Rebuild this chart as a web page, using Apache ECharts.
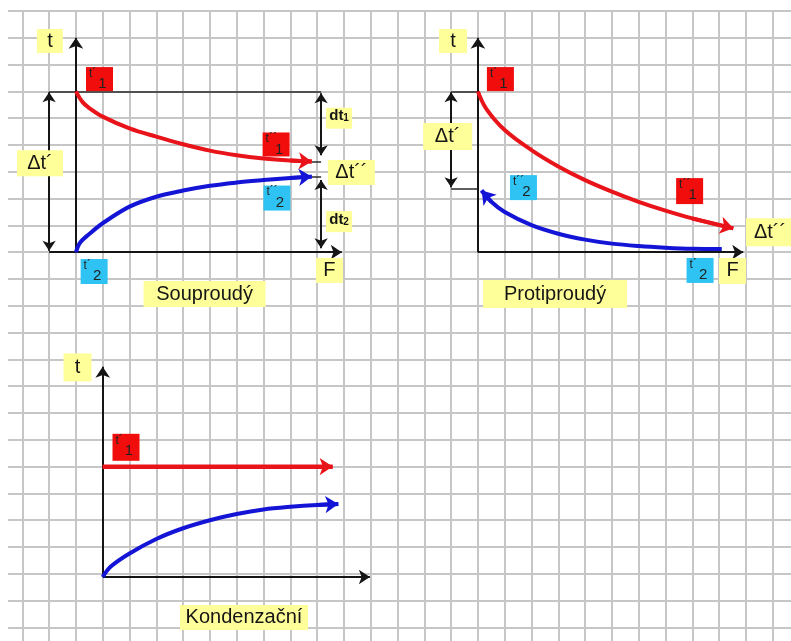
<!DOCTYPE html>
<html>
<head>
<meta charset="utf-8">
<title>Souproudý, protiproudý, kondenzační</title>
<script src="https://cdn.jsdelivr.net/npm/echarts@6/dist/echarts.min.js"></script>
<style>
  html, body { margin: 0; padding: 0; background: #fff; }
  #chart { width: 791px; height: 641px; }
</style>
</head>
<body>
<div id="chart"></div>
<script>
// vse v jednotkach ctverecku site (x = plocha F, y = teplota t)

// teplé médium (t1) a studené médium (t2)
const souRed = [[2, 21], [2.25, 20.6], [2.5, 20.38], [3, 20.06], [4, 19.62], [5, 19.31], [6, 19.03], [7, 18.79], [8, 18.62], [9, 18.5], [10, 18.42], [10.8, 18.38]]
const souBlue = [[2, 15], [2.15, 15.35], [2.5, 15.68], [3, 16.08], [4, 16.7], [5, 17.07], [6, 17.3], [7, 17.48], [8, 17.6], [9, 17.69], [10, 17.77], [10.8, 17.82]]
const protiRed = [[17, 21], [17.3, 20.37], [18, 19.56], [19, 18.81], [20, 18.2], [21, 17.69], [22, 17.26], [23, 16.88], [24, 16.55], [25, 16.26], [26.53, 15.89]]
const protiBlue = [[26.1, 15.12], [25, 15.13], [24, 15.17], [23, 15.23], [22, 15.32], [21, 15.47], [20, 15.69], [19, 16.01], [18, 16.5], [17.5, 16.88], [17.14, 17.3]]
const konRed = [[3, 7], [11.58, 7]]
const konBlue = [[3, 2.88], [3.3, 3.27], [4, 3.76], [5, 4.3], [6, 4.7], [7, 5.0], [8, 5.23], [9, 5.4], [10, 5.5], [11, 5.57], [11.79, 5.6]]

// osy (se sipkou na konci)
const axisSegs = [
  [[1, 15], [11.92, 15]],
  [[2, 15], [2, 23]],
  [[17, 15], [26.9, 15]],
  [[17, 15], [17, 23]],
  [[3, 2.88], [12.97, 2.88]],
  [[3, 2.88], [3, 10.73]]
]
// pomocne cary
const helpSegs = [
  [[1, 21], [11.15, 21]],
  [[10.8, 18.38], [11.15, 18.38]],
  [[10.8, 17.82], [11.15, 17.82]],
  [[16, 21], [17, 21]],
  [[16, 17.38], [17, 17.38]]
]
// kotovaci sipky (oboustranne)
const dimSegs = [
  [[1, 15.05], [1, 20.97]],
  [[11.15, 20.93], [11.15, 18.62]],
  [[11.15, 17.69], [11.15, 15.15]],
  [[16, 20.97], [16, 17.42]]
]

// popisky: [x, y, text, index, druh, sirka, vyska]
const notes = [
  [1.03, 22.88, 't', '', 'y', 26, 24],
  [2.88, 21.46, 't´', '1', 'r', 27, 24],
  [9.47, 19.02, 't´´', '1', 'r', 27, 24],
  [2.68, 14.28, 't´', '2', 'c', 27, 25],
  [9.5, 17.02, 't´´', '2', 'c', 27, 25],
  [0.66, 18.32, 'Δt´', '', 'y', 46, 26],
  [11.82, 20.0, 'dt', '1', 'd', 26, 21],
  [12.28, 17.97, 'Δt´´', '', 'y', 47, 25],
  [11.82, 16.14, 'dt', '2', 'd', 26, 21],
  [11.46, 14.32, 'F', '', 'y', 27, 25],
  [6.8, 13.44, 'Souproudý', '', 'y', 122, 26],

  [16.07, 22.88, 't', '', 'y', 28, 24],
  [17.84, 21.46, 't´', '1', 'r', 27, 24],
  [15.87, 19.32, 'Δt´', '', 'y', 49, 27],
  [18.7, 17.41, 't´´', '2', 'c', 27, 25],
  [24.9, 17.28, 't´´', '1', 'r', 27, 26],
  [27.9, 15.74, 'Δt´´', '', 'y', 48, 28],
  [25.29, 14.32, 't´', '2', 'c', 27, 25],
  [26.5, 14.3, 'F', '', 'y', 27, 26],
  [19.88, 13.44, 'Protiproudý', '', 'y', 144, 28],

  [2.06, 10.7, 't', '', 'y', 28, 28],
  [3.87, 7.72, 't´', '1', 'r', 27, 27],
  [8.27, 1.37, 'Kondenzační', '', 'y', 128, 25]
]

const FONT = 'Liberation Sans'
const RED = '#e8141a'
const BLUE = '#1414d6'
const INK = '#151515'
const boxColor = { y: '#ffff99', d: '#ffff99', r: '#f20d0d', c: '#2ec3f2' }

// sit: ctverecek 26.8 px, cara x = 0 lezi na 22.3 px, cara y = 24 na 11 px
const CELL = 26.8
const X_MIN = (8 - 22.3) / CELL
const X_MAX = (791 - 22.3) / CELL
const Y_MIN = 24 - (641 - 11) / CELL
const Y_MAX = 24

const chart = echarts.init(document.getElementById('chart'))

function segs(segList, color, width, symbol, size, z) {
  return {
    type: 'lines',
    coordinateSystem: 'cartesian2d',
    silent: true,
    symbol: symbol,
    symbolSize: size,
    lineStyle: { color: color, width: width, opacity: 1, curveness: 0 },
    data: segList.map((s) => ({ coords: s })),
    z: z
  }
}

function curve(data, color) {
  return {
    type: 'line',
    data: data,
    smooth: 0.35,
    symbol: 'none',
    silent: true,
    lineStyle: { color: color, width: 4 },
    z: 4
  }
}

// sipka na konci krivky: posledni usek krivky
function tip(data) {
  return [data[data.length - 2], data[data.length - 1]]
}

function noteLabel(n) {
  const [x, y, text, sub, kind, w, h] = n
  const twoLine = kind === 'r' || kind === 'c'
  let formatter
  if (twoLine) {
    // carka nahore vlevo, index pod ni vpravo
    formatter = `{p|${text}}\n{s|${sub}}`
  } else if (kind === 'd') {
    formatter = `{b|${text}}{bs|${sub}}`
  } else {
    formatter = `{m|${text}}`
  }
  const label = {
    show: true,
    position: 'inside',
    formatter: formatter,
    width: w,
    height: h,
    align: 'center',
    verticalAlign: 'middle',
    opacity: 1,
    backgroundColor: boxColor[kind]
  }
  if (!twoLine) label.lineHeight = h
  return { value: [x, y], label: label }
}

const gridAxis = {
  type: 'value',
  splitNumber: 30,
  minInterval: 1,
  maxInterval: 1,
  axisLine: { show: false },
  axisTick: { show: false },
  axisLabel: { show: false },
  splitLine: { show: true, showMinLine: false, showMaxLine: false, lineStyle: { color: '#c6c6c6', width: 2 } }
}

const option = {
  animation: false,
  backgroundColor: '#fff',
  grid: { left: 8, right: 0, top: 11, bottom: 0 },
  xAxis: Object.assign({}, gridAxis, { min: X_MIN, max: X_MAX }),
  yAxis: Object.assign({}, gridAxis, {
    min: Y_MIN, max: Y_MAX,
    splitLine: { show: true, showMinLine: false, showMaxLine: true, lineStyle: { color: '#c6c6c6', width: 2 } }
  }),
  series: [
    segs(helpSegs, '#2a2a2a', 1.5, ['none', 'none'], 0, 2),
    segs(axisSegs, INK, 2, ['none', 'arrow'], 11, 3),
    segs(dimSegs, INK, 2, ['arrow', 'arrow'], 10, 3),
    curve(souRed, RED),
    curve(souBlue, BLUE),
    curve(protiRed, RED),
    curve(protiBlue, BLUE),
    curve(konRed, RED),
    curve(konBlue, BLUE),
    segs([tip(souRed), tip(protiRed), tip(konRed)], RED, 4, ['none', 'arrow'], 13, 5),
    segs([tip(souBlue), tip(protiBlue), tip(konBlue)], BLUE, 4, ['none', 'arrow'], 13, 5),
    {
      type: 'scatter',
      symbolSize: 0,
      silent: true,
      z: 10,
      itemStyle: { opacity: 1 },
      label: {
        show: true,
        fontFamily: FONT,
        color: INK,
        rich: {
          m: { fontFamily: FONT, fontSize: 20, color: INK },
          p: { fontFamily: FONT, fontSize: 12, color: '#222', lineHeight: 11, align: 'left', padding: [2, 0, 0, 3] },
          s: { fontFamily: FONT, fontSize: 15, color: '#222', lineHeight: 12, align: 'center', padding: [0, 0, 0, 6] },
          b: { fontFamily: FONT, fontSize: 15, fontWeight: 'bold', color: INK, verticalAlign: 'bottom', lineHeight: 16 },
          bs: { fontFamily: FONT, fontSize: 10, fontWeight: 'bold', color: INK, verticalAlign: 'bottom', lineHeight: 10, padding: [6, 0, 0, 0] }
        }
      },
      data: notes.map(noteLabel)
    }
  ]
}

chart.setOption(option)
</script>
</body>
</html>
